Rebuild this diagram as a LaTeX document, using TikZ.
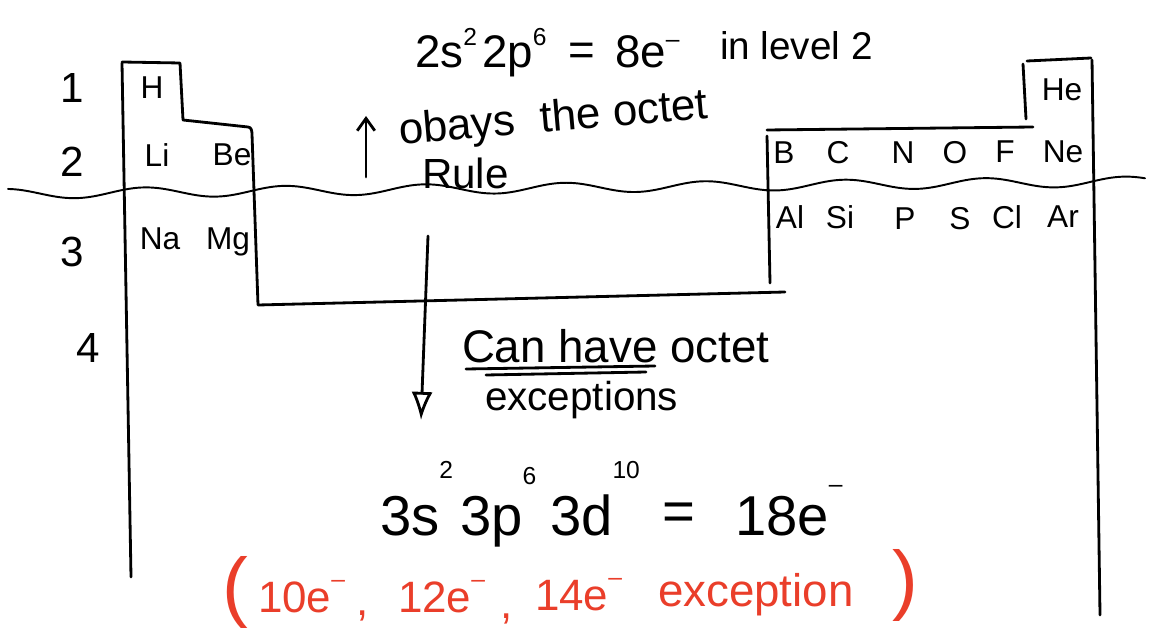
\documentclass[tikz,border=0pt]{standalone}
\usepackage{fontspec}
\setmainfont{Liberation Sans}
\usetikzlibrary{arrows.meta}
\definecolor{redink}{RGB}{234,62,42}
\newcommand{\myup}[2][0.5em]{\raisebox{#1}{\fontsize{14}{14}\selectfont #2}}
\tikzset{
  ink/.style={line width=1.6pt, line cap=round, line join=round},
  waveline/.style={line width=1.1pt, line cap=round},
  lbl/.style={inner sep=0pt, outer sep=0pt},
  elem/.style={lbl, anchor=base, font=\fontsize{18}{18}\selectfont},
  period/.style={lbl, anchor=base, font=\fontsize{24}{24}\selectfont},
  topf/.style={lbl, anchor=base west, font=\fontsize{26}{26}\selectfont},
  botf/.style={lbl, anchor=base west, font=\fontsize{32}{32}\selectfont},
  note/.style={lbl, anchor=base west, font=\fontsize{24}{24}\selectfont},
  redtxt/.style={lbl, anchor=base west, text=redink, font=\fontsize{25}{25}\selectfont},
  redpar/.style={lbl, text=redink, font=\fontsize{44}{44}\selectfont},
}
\begin{document}
\begin{tikzpicture}[x=0.02cm,y=-0.02cm]
\useasboundingbox (0,0) rectangle (1151,634);
\fill[white] (0,0) rectangle (1151,634);

% period numbers
\node[period] (p1) at (72,103) {1};
\node[period] (p2) at (72,177) {2};
\node[period] (p3) at (72,267) {3};
\node[period] (p4) at (88,362) {4};

% table outline (s block)
\draw[ink] (122,63) -- (131,577);
\draw[ink] (122,62) -- (180,63) -- (183,120) -- (248,127) to[out=0,in=90] (252,134) -- (258,305) -- (785,292);
% p block
\draw[ink] (767,136) -- (770,283);
\draw[ink] (767,130) -- (1033,127);
\draw[ink] (1023,64) -- (1026,119);
\draw[ink] (1027,61) -- (1091,58);
\draw[ink] (1092,60) -- (1100,615);

% wavy line
\draw[waveline] plot[domain=8:1145, samples=300, smooth] (\x, {194 - 0.011*\x + 5*sin(2.5714*(\x-40))});

% elements
\node[elem] (H) at (152,99) {H};
\node[elem] (Li) at (157,167) {Li};
\node[elem] (Be) at (232,166) {Be};
\node[elem] (Na) at (160,250) {Na};
\node[elem] (Mg) at (228,250) {Mg};
\node[elem] (He) at (1062,101) {He};
\node[elem] (B) at (784,164) {B};
\node[elem] (C) at (838,164) {C};
\node[elem] (N) at (903,164) {N};
\node[elem] (O) at (955,164) {O};
\node[elem] (F) at (1005,163) {F};
\node[elem] (Ne) at (1063,163) {Ne};
\node[elem] (Al) at (790,229) {Al};
\node[elem] (Si) at (840,229) {Si};
\node[elem] (P) at (905,230) {P};
\node[elem] (S) at (960,230) {S};
\node[elem] (Cl) at (1007,229) {Cl};
\node[elem] (Ar) at (1063,228) {Ar};

% top formula
\node[topf] (f1) at (415,68) {2s\myup{2}};
\node[topf] (f2) at (482,68) {2p\myup{6}};
\node[topf] (f3) at (568,66) {=};
\node[topf] (f4) at (615,68) {8e\myup[0.45em]{--}};
\node[lbl, anchor=base west, font=\fontsize{22}{22}\selectfont] (f5) at (720,60) {in level 2};

% obeys the octet
\node[note, rotate=5, font=\fontsize{25}{25}\selectfont] (ob) at (400,145) {obays\ \ the octet};
\node[note] (rule) at (422,189) {Rule};
\coordinate (upS) at (366,177);
\coordinate (upE) at (366,116);
\draw[ink, -{Straight Barb[length=7pt,width=10pt]}] (upS) -- (upE);

% down arrow
\coordinate (dnS) at (428,236);
\coordinate (dnE) at (421,420);
\draw[ink, -{Latex[open,length=16pt,width=12pt]}] (dnS) -- (dnE);

% can have octet exceptions
\node[note, font=\fontsize{26}{26}\selectfont] (can) at (462,362) {Can have octet};
\draw[ink] (466,369) -- (655,366);
\draw[ink] (486,375) -- (646,372);
\node[lbl, anchor=base west, font=\fontsize{23}{23}\selectfont] (exc) at (485,410) {exceptions};

% bottom formula
\node[botf] (g1) at (380,535) {3s\myup[1em]{2}};
\node[botf] (g2) at (460,535) {3p\myup[0.9em]{6}};
\node[botf] (g3) at (550,535) {3d\myup[1em]{10}};
\node[botf] (g4) at (662,530) {=};
\node[botf] (g5) at (735,535) {18e\myup[0.75em]{--}};

% red exceptions
\node[redpar] (lp) at (235,592) {(};
\node[redtxt] (r1) at (258,612) {10e\myup[0.55em]{--}};
\node[redtxt] (c1) at (356,615) {,};
\node[redtxt] (r2) at (398,612) {12e\myup[0.55em]{--}};
\node[redtxt] (c2) at (500,618) {,};
\node[redtxt] (r3) at (535,610) {14e\myup[0.55em]{--}};
\node[redtxt, font=\fontsize{26}{26}\selectfont] (r4) at (658,606) {exception};
\node[redpar] (rp) at (905,585) {)};
\end{tikzpicture}
\end{document}
